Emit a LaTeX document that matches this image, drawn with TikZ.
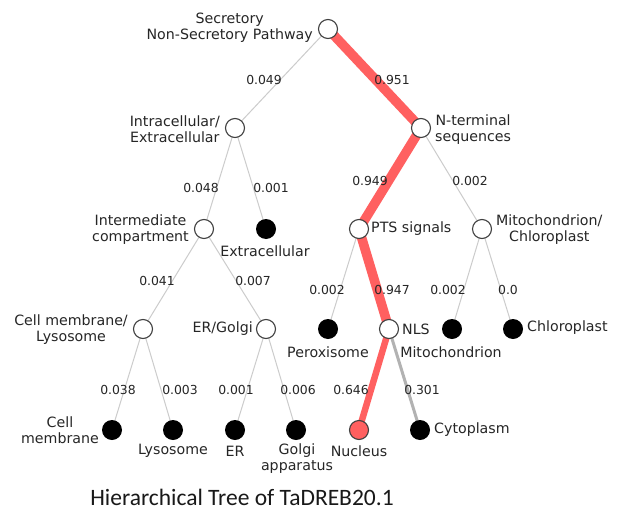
\documentclass[tikz,border=0pt]{standalone}
\usepackage{fontspec}
\setmainfont{DejaVu Sans}
\newfontfamily\capfont{Carlito}
\begin{document}
\begin{tikzpicture}[x=1pt,y=-1pt,
  inner/.style={circle,draw=black!75,line width=1.1pt,fill=white,minimum size=19pt,inner sep=0pt},
  leaf/.style={circle,fill=black,minimum size=20pt,inner sep=0pt},
  hit/.style={circle,draw=black!75,line width=1.1pt,fill=pathred,minimum size=19pt,inner sep=0pt},
  lbl/.style={font=\fontsize{14.2}{16}\selectfont,text=black!85,align=center,inner sep=1pt},
  prob/.style={font=\fontsize{12.4}{14}\selectfont,text=black!85,inner sep=1pt},
  thin/.style={draw=black!20,line width=1pt},
  mainpath/.style={draw=pathred,line cap=round},
  side/.style={draw=black!30,line width=3pt,line cap=round}]
\definecolor{pathred}{RGB}{255,96,96}
\useasboundingbox (0,0) rectangle (620,516);
\fill[white] (0,0) rectangle (620,516);

% node positions
\coordinate (root) at (328,29);
\coordinate (ie) at (235,128);
\coordinate (nt) at (421,128);
\coordinate (im) at (204,229);
\coordinate (ex) at (266,229);
\coordinate (pts) at (359,229);
\coordinate (mc) at (482,229);
\coordinate (cl) at (143,329);
\coordinate (eg) at (266,329);
\coordinate (per) at (328,329);
\coordinate (nls) at (389,329);
\coordinate (mit) at (452,329);
\coordinate (chl) at (513,329);
\coordinate (cm) at (112,430);
\coordinate (lys) at (173,430);
\coordinate (er) at (235,430);
\coordinate (gol) at (296,430);
\coordinate (nuc) at (359,430);
\coordinate (cyt) at (420,430);

% edges
\draw[thin] (root) -- (ie);
\draw[thin] (ie) -- (im);
\draw[thin] (ie) -- (ex);
\draw[thin] (im) -- (cl);
\draw[thin] (im) -- (eg);
\draw[thin] (cl) -- (cm);
\draw[thin] (cl) -- (lys);
\draw[thin] (eg) -- (er);
\draw[thin] (eg) -- (gol);
\draw[thin] (nt) -- (mc);
\draw[thin] (mc) -- (mit);
\draw[thin] (mc) -- (chl);
\draw[thin] (pts) -- (per);
\draw[side] (nls) -- (cyt);
\draw[mainpath,line width=9.5pt] (root) -- (nt);
\draw[mainpath,line width=9.5pt] (nt) -- (pts);
\draw[mainpath,line width=9.5pt] (pts) -- (nls);
\draw[mainpath,line width=6.5pt] (nls) -- (nuc);

% probabilities
\node[prob] (p1) at (264,80) {0.049};
\node[prob] (p2) at (392,80) {0.951};
\node[prob] (p3) at (201,188) {0.048};
\node[prob] (p4) at (271,188) {0.001};
\node[prob] (p5) at (370,181) {0.949};
\node[prob] (p6) at (470,181) {0.002};
\node[prob] (p7) at (157,281) {0.041};
\node[prob] (p8) at (253,281) {0.007};
\node[prob] (p9) at (327,290) {0.002};
\node[prob] (p10) at (392,290) {0.947};
\node[prob] (p11) at (448,290) {0.002};
\node[prob] (p12) at (508,290) {0.0};
\node[prob] (p13) at (118,390) {0.038};
\node[prob] (p14) at (180,390) {0.003};
\node[prob] (p15) at (236,390) {0.001};
\node[prob] (p16) at (298,390) {0.006};
\node[prob] (p17) at (351,390) {0.646};
\node[prob] (p18) at (422,390) {0.301};

% circles
\node[inner] (nroot) at (root) {};
\node[inner] (nie) at (ie) {};
\node[inner] (nnt) at (nt) {};
\node[inner] (nim) at (im) {};
\node[leaf] (nex) at (ex) {};
\node[inner] (npts) at (pts) {};
\node[inner] (nmc) at (mc) {};
\node[inner] (ncl) at (cl) {};
\node[inner] (neg) at (eg) {};
\node[leaf] (nper) at (per) {};
\node[inner] (nnls) at (nls) {};
\node[leaf] (nmit) at (mit) {};
\node[leaf] (nchl) at (chl) {};
\node[leaf] (ncm) at (cm) {};
\node[leaf] (nlys) at (lys) {};
\node[leaf] (ner) at (er) {};
\node[leaf] (ngol) at (gol) {};
\node[hit] (nnuc) at (nuc) {};
\node[leaf] (ncyt) at (cyt) {};

% labels
\node[lbl,anchor=east] (troot) at (314,28) {Secretory\\Non-Secretory Pathway};
\node[lbl,anchor=east] (tie) at (221,129) {Intracellular/\\Extracellular};
\node[lbl,anchor=west] (tnt) at (434,130) {N-terminal\\sequences};
\node[lbl,anchor=east] (tim) at (190,230) {Intermediate\\compartment};
\node[lbl] (tex) at (265,251) {Extracellular};
\node[lbl,anchor=west] (tpts) at (370,229) {PTS signals};
\node[lbl,anchor=west] (tmc) at (495,230) {Mitochondrion/\\Chloroplast};
\node[lbl,anchor=east] (tcl) at (129,330) {Cell membrane/\\Lysosome};
\node[lbl,anchor=east] (teg) at (254,329) {ER/Golgi};
\node[lbl] (tper) at (328,352) {Peroxisome};
\node[lbl,anchor=west] (tnls) at (401,329) {NLS};
\node[lbl] (tmit) at (451,352) {Mitochondrion};
\node[lbl,anchor=west] (tchl) at (526,328) {Chloroplast};
\node[lbl,anchor=east] (tcm) at (100,430) {Cell\\membrane};
\node[lbl] (tlys) at (173,451) {Lysosome};
\node[lbl] (ter) at (235,451) {ER};
\node[lbl] (tgol) at (297,459) {Golgi\\apparatus};
\node[lbl] (tnuc) at (359,451) {Nucleus};
\node[lbl,anchor=west] (tcyt) at (433,430) {Cytoplasm};

% caption
\node[font=\capfont\fontsize{23.5}{27}\selectfont,text=black!90,inner sep=0pt] (cap) at (242,497) {Hierarchical Tree of TaDREB20.1};
\end{tikzpicture}
\end{document}
